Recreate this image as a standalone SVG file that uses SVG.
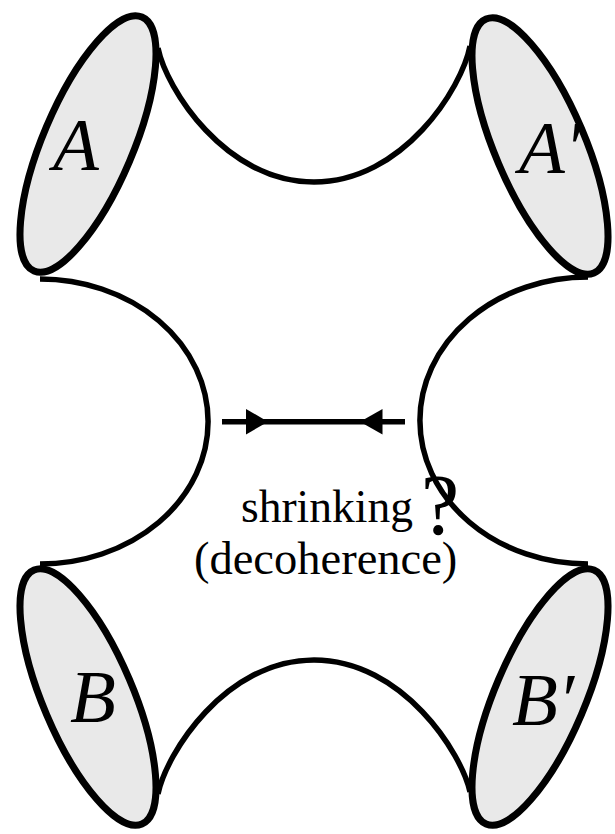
<svg xmlns="http://www.w3.org/2000/svg" width="615" height="834" viewBox="0 0 615 834">
<style>
.disk{fill:#e9e9e9;stroke:#000;stroke-width:7}
.tube{fill:none;stroke:#000;stroke-width:5.5}
.lbl{font-family:"Liberation Serif","Times New Roman",serif;font-style:italic;font-size:75px;fill:#000}
.txt{font-family:"Liberation Serif","Times New Roman",serif;font-size:45.5px;fill:#000}
</style>
<rect width="615" height="834" fill="#fff"/>
<g id="connectors">
<path class="tube" d="M158 48 C166 88 225 182 314 182 C403 182 462 88 470 46"/>
<path class="tube" d="M158 794 C166 754 225 660 314 660 C403 660 462 754 470 792"/>
<path class="tube" d="M40 279 A167.5 142 0 0 1 40 564"/>
<path class="tube" d="M588 277 A167.5 143 0 0 0 588 564"/>
<g id="arrow">
<line x1="222" y1="421.7" x2="405" y2="421.7" stroke="#000" stroke-width="5.5"/>
<polygon points="246,409 268,421.7 246,434.5" fill="#000"/>
<polygon points="382.5,409 360,421.7 382.5,434.5" fill="#000"/>
</g>
</g>
<g id="nodeA">
<ellipse class="disk" cx="88" cy="144" rx="45" ry="138" transform="rotate(23 88 144)"/>
<text class="lbl" x="53" y="170">A</text>
</g>
<g id="nodeA2">
<ellipse class="disk" cx="540" cy="146" rx="45" ry="138" transform="rotate(-23 540 146)"/>
<text class="lbl" x="519" y="173">A′</text>
</g>
<g id="nodeB">
<ellipse class="disk" cx="88" cy="697" rx="45" ry="138" transform="rotate(-23 88 697)"/>
<text class="lbl" x="70" y="722">B</text>
</g>
<g id="nodeB2">
<ellipse class="disk" cx="540" cy="697" rx="45" ry="138" transform="rotate(23 540 697)"/>
<text class="lbl" x="512" y="725">B′</text>
</g>
<g id="label">
<text class="txt" x="241" y="522">shrinking</text>
<text class="txt" x="194" y="574" style="font-size:46.5px">(decoherence)</text>
<text class="txt" x="421" y="534" style="font-size:86px">?</text>
</g>
</svg>
